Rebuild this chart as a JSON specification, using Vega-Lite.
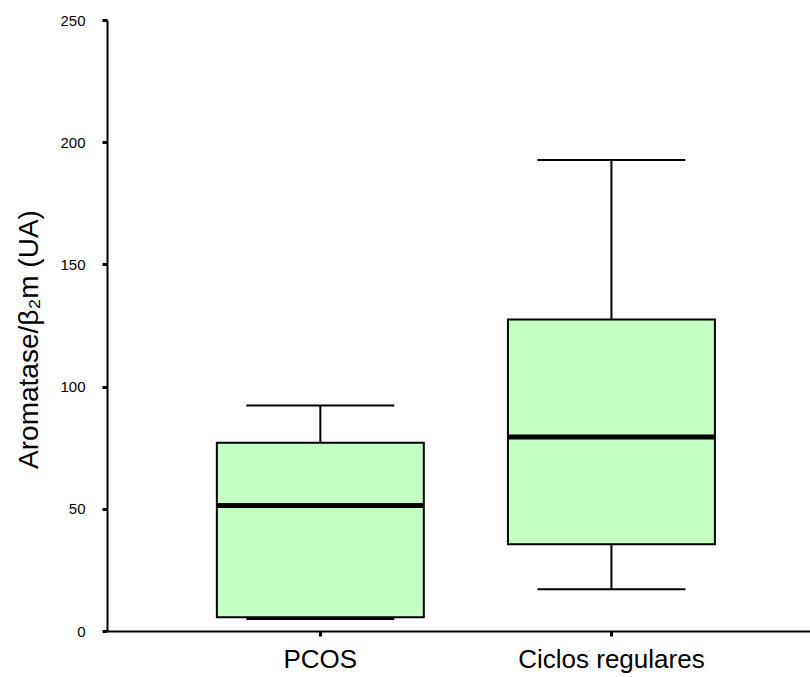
{
  "$schema": "https://vega.github.io/schema/vega-lite/v6.json",
  "width": 703,
  "height": 611,
  "autosize": "none",
  "padding": {"left": 107, "top": 20, "right": 0, "bottom": 46},
  "background": "white",
  "config": {
    "view": {"stroke": null},
    "font": "Liberation Sans",
    "axis": {
      "domainColor": "black",
      "domainWidth": 2,
      "tickColor": "black",
      "tickWidth": 3,
      "tickSize": 5,
      "labelColor": "black",
      "titleColor": "black",
      "grid": false,
      "labelFont": "Liberation Sans",
      "titleFont": "Liberation Sans"
    }
  },
  "data": {
    "values": [
      {"group": "PCOS", "lower": 4.9, "q1": 5.6, "median": 51.4, "q3": 77.0, "upper": 92.3},
      {"group": "Ciclos regulares", "lower": 17.1, "q1": 35.5, "median": 79.4, "q3": 127.5, "upper": 192.7}
    ]
  },
  "encoding": {
    "x": {
      "field": "group",
      "type": "nominal",
      "sort": ["PCOS", "Ciclos regulares"],
      "title": null,
      "scale": {"paddingInner": 0.289, "paddingOuter": 0.352, "align": 0.536},
      "axis": {"labelFontSize": 26, "labelPadding": 10, "labelAngle": 0, "labelLimit": 500}
    }
  },
  "layer": [
    {
      "mark": {"type": "rule", "color": "black", "strokeWidth": 2},
      "encoding": {
        "y": {
          "field": "lower",
          "type": "quantitative",
          "scale": {"domain": [0, 250], "nice": false},
          "title": "Aromatase/β₂m (UA)",
          "axis": {
            "values": [0, 50, 100, 150, 200, 250],
            "labelFontSize": 15,
            "labelPadding": 17,
            "titleFontSize": 28,
            "titleFontWeight": "normal",
            "titlePadding": 16,
            "titleY": 319
          }
        },
        "y2": {"field": "q1"}
      }
    },
    {
      "mark": {"type": "rule", "color": "black", "strokeWidth": 2},
      "encoding": {
        "y": {"field": "q3", "type": "quantitative", "title": "Aromatase/β₂m (UA)"},
        "y2": {"field": "upper"}
      }
    },
    {
      "mark": {"type": "bar", "fill": "#c4ffc4", "stroke": "black", "strokeWidth": 2},
      "encoding": {
        "y": {"field": "q1", "type": "quantitative", "title": "Aromatase/β₂m (UA)"},
        "y2": {"field": "q3"}
      }
    },
    {
      "mark": {"type": "tick", "color": "black", "size": 207, "thickness": 5, "opacity": 1},
      "encoding": {
        "y": {"field": "median", "type": "quantitative", "title": "Aromatase/β₂m (UA)"}
      }
    },
    {
      "mark": {"type": "tick", "color": "black", "size": 148, "thickness": 2, "opacity": 1},
      "encoding": {
        "y": {"field": "upper", "type": "quantitative", "title": "Aromatase/β₂m (UA)"}
      }
    },
    {
      "mark": {"type": "tick", "color": "black", "size": 148, "thickness": 2, "opacity": 1},
      "encoding": {
        "y": {"field": "lower", "type": "quantitative", "title": "Aromatase/β₂m (UA)"}
      }
    }
  ]
}
